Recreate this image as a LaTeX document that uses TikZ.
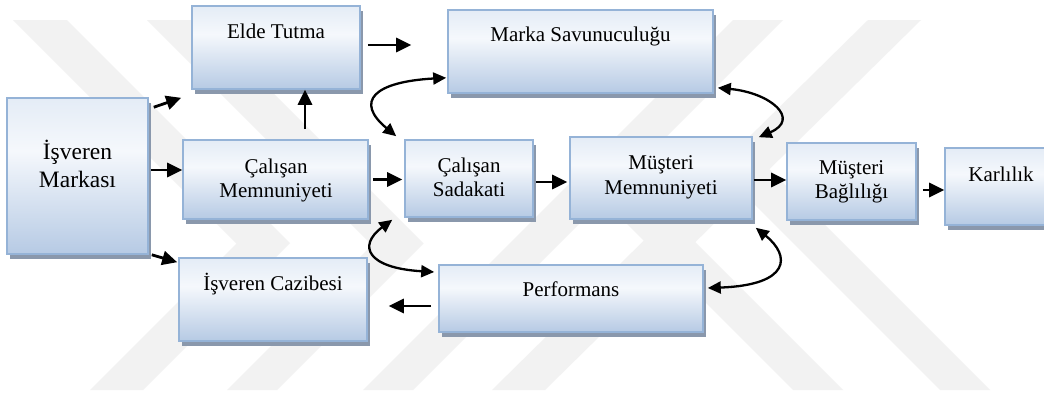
\documentclass[tikz,border=0pt]{standalone}
\usepackage{fontspec}
\setmainfont{Liberation Serif}
\usetikzlibrary{arrows.meta,calc}

\definecolor{boxtop}{RGB}{228,236,246}
\definecolor{boxmid}{RGB}{245,248,252}
\definecolor{boxbot}{RGB}{182,202,228}
\definecolor{boxline}{RGB}{149,179,215}
\definecolor{boxshadow}{RGB}{138,152,172}
\definecolor{wmgray}{RGB}{242,242,242}

\pgfdeclareverticalshading{boxshade}{100bp}{color(0bp)=(boxbot); color(25bp)=(boxbot); color(58bp)=(boxmid); color(75bp)=(boxtop); color(100bp)=(boxtop)}

\tikzset{
  box/.style={rectangle, draw=boxline, line width=1.6pt, shade, shading=boxshade,
    inner sep=0pt, preaction={fill=boxshadow, transform canvas={xshift=3pt,yshift=-4.5pt}}},
  lbl/.style={font=\fontsize{21}{24}\selectfont, inner sep=0pt, anchor=base},
  arr/.style={line width=2.8pt, -{Triangle[length=15pt,width=14pt]}},
  twoway/.style={line width=2.3pt, {Triangle[length=13pt,width=12pt]}-{Triangle[length=13pt,width=12pt]}},
  wm/.style={fill=wmgray, draw=none}
}

% box given by its left, top, right and bottom edges (y measured downwards)
\newcommand{\mkbox}[5]{%
  \node[box, minimum width={#4-#2}, minimum height={#5-#3}] (#1) at ({(#2+#4)/2},{-(#3+#5)/2}) {};}

\begin{document}
\begin{tikzpicture}[x=1pt,y=1pt]
\path[use as bounding box, clip] (0,0) rectangle (1044,-394);
\fill[white] (0,0) rectangle (1044,-394);

% faint background emblem
\fill[wm] (13,-20) -- (67,-20) -- (290,-243) -- (143,-390) -- (90,-390) -- (236.5,-243.5) -- cycle;
\fill[wm] (147,-20) -- (200,-20) -- (423.5,-243.5) -- (277,-390) -- (227,-390) -- (372,-245) -- cycle;
\fill[wm] (363,-390) -- (413,-390) -- (783,-20) -- (733,-20) -- cycle;
\fill[wm] (492,-390) -- (545,-390) -- (921,-20) -- (868,-20) -- cycle;
\fill[wm] (793,-390) -- (843,-390) -- (628,-175) -- (603,-200) -- cycle;
\fill[wm] (940,-390) -- (990,-390) -- (767.5,-167.5) -- (742.5,-192.5) -- cycle;

% boxes
\mkbox{isv}{7}{98}{148}{254}
\mkbox{elde}{192}{6}{360}{89}
\mkbox{cm}{183}{140}{368}{219}
\mkbox{caz}{179}{258}{367}{341}
\mkbox{marka}{448}{10}{713}{93}
\mkbox{sad}{405}{140}{533}{217}
\mkbox{mm}{570}{137}{752}{219}
\mkbox{perf}{439}{265}{703}{332}
\mkbox{bag}{787}{143}{916}{220}
\mkbox{karl}{945}{148}{1057}{225}

% labels
\node[lbl, font=\fontsize{23.5}{28}\selectfont] (isv-a) at (77.5,-159) {İşveren};
\node[lbl, font=\fontsize{23.5}{28}\selectfont] (isv-b) at (77.5,-187) {Markası};
\node[lbl] (elde-t) at (276,-38) {Elde Tutma};
\node[lbl] (cm-a) at (276,-173) {Çalışan};
\node[lbl] (cm-b) at (276,-197) {Memnuniyeti};
\node[lbl] (caz-t) at (273,-290) {İşveren Cazibesi};
\node[lbl] (marka-t) at (580.5,-41) {Marka Savunuculuğu};
\node[lbl] (sad-a) at (469,-172) {Çalışan};
\node[lbl] (sad-b) at (469,-196) {Sadakati};
\node[lbl] (mm-a) at (661,-169) {Müşteri};
\node[lbl] (mm-b) at (661,-194) {Memnuniyeti};
\node[lbl] (perf-t) at (571,-296) {Performans};
\node[lbl] (bag-a) at (851.5,-174) {Müşteri};
\node[lbl] (bag-b) at (851.5,-198) {Bağlılığı};
\node[lbl] (karl-t) at (1001,-181) {Karlılık};

% straight arrows
\draw[arr] ($(isv.north east)+(5,-10)$) -- ($(elde.south west)+(-10,-8)$);
\coordinate (s2) at ($(isv.east)+(2,6)$);
\draw[arr] (s2) -- (s2 -| cm.west);
\draw[arr] ($(isv.south east)+(3,0)$) -- ($(caz.north west)+(-1,-5)$);
\coordinate (s4) at ($(cm.north)+(29.5,10)$);
\draw[arr] (s4) -- (s4 |- elde.south);
\coordinate (s5) at ($(elde.east)+(7,2.5)$);
\draw[arr] (s5) -- ($(s5 -| marka.west)+(-36,0)$);
\coordinate (s6) at ($(cm.east)+(4,0)$);
\draw[arr] (s6) -- ($(s6 -| sad.west)+(-2,0)$);
\coordinate (s7) at ($(sad.east)+(2,-3.5)$);
\draw[arr] (s7) -- ($(s7 -| mm.west)+(-2,0)$);
\coordinate (s8) at ($(mm.east)+(1,-2)$);
\draw[arr] (s8) -- (s8 -| bag.west);
\coordinate (s9) at ($(bag.east)+(6,-8.5)$);
\draw[arr] (s9) -- (s9 -| karl.west);
\coordinate (s10) at ($(perf.west)+(-7,-7.5)$);
\draw[arr] (s10) -- ($(s10 -| caz.east)+(21,0)$);

% two-way curved links
\draw[twoway] ($(sad.north west)+(-8,3)$) .. controls +(-42,35) and +(-72,-4) .. ($(marka.south west)+(-1,16)$);
\draw[twoway] ($(sad.south west)+(-12,-2)$) .. controls +(-35,-26) and +(-67,4) .. ($(perf.west)+(-4,26.5)$);
\draw[twoway] ($(marka.south east)+(4,6)$) .. controls +(53,-5) and +(42,18) .. ($(mm.north east)+(6,-1)$);
\draw[twoway] ($(mm.south east)+(3,-8)$) .. controls +(35,-28) and +(83,3) .. ($(perf.east)+(4,10.5)$);
\end{tikzpicture}
\end{document}
